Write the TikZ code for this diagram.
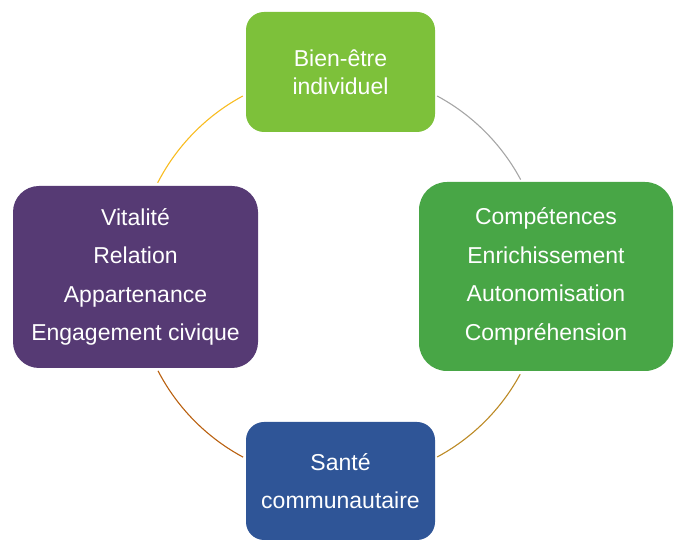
\documentclass[tikz,border=0pt]{standalone}
\usepackage{fontspec}
\setmainfont{Liberation Sans}
\definecolor{gTop}{HTML}{7DC13A}
\definecolor{gRight}{HTML}{48A646}
\definecolor{pLeft}{HTML}{563A74}
\definecolor{bBot}{HTML}{2F5597}
\definecolor{aTL}{HTML}{F8BC20}
\definecolor{aTR}{HTML}{A6A6A6}
\definecolor{aBR}{HTML}{BC8A25}
\definecolor{aBL}{HTML}{B9600F}
\tikzset{
  box/.style={rectangle, rounded corners=#1, text=white, align=center,
    inner sep=0pt, font=\fontsize{23}{38.5}\selectfont},
  ring/.style={line width=1.1pt},
}
\begin{document}
\begin{tikzpicture}[x=1pt,y=1pt]
\useasboundingbox (0,0) rectangle (675,540);
\coordinate (c) at (340,263.5);
\node[box=18pt, fill=gTop, minimum width=189pt, minimum height=120pt,
  font=\fontsize{23}{28}\selectfont] (top) at (340.5,468) {Bien-être\\individuel};
\node[box=26pt, fill=pLeft, minimum width=245pt, minimum height=182pt] (left) at (135.5,263)
  {Vitalité\\Relation\\Appartenance\\Engagement civique};
\node[box=28pt, fill=gRight, minimum width=254pt, minimum height=189pt] (right) at (546,263.5)
  {Compétences\\Enrichissement\\Autonomisation\\Compréhension};
\node[box=18pt, fill=bBot, minimum width=189pt, minimum height=118pt] (bot) at (340.5,481-422)
  {Santé\\communautaire};
\coordinate (tl1) at ([shift={(118.3:205)}]c);
\coordinate (tr1) at ([shift={(61.7:205)}]c);
\coordinate (br1) at ([shift={(-28.5:205)}]c);
\coordinate (bl1) at ([shift={(-152.6:205)}]c);
\draw[ring, aTL] (tl1) arc[start angle=118.3, end angle=152.8, radius=205];
\draw[ring, aTR] (tr1) arc[start angle=61.7, end angle=28.2, radius=205];
\draw[ring, aBR] (br1) arc[start angle=-28.5, end angle=-61.7, radius=205];
\draw[ring, aBL] (bl1) arc[start angle=-152.6, end angle=-118.2, radius=205];
\end{tikzpicture}
\end{document}
